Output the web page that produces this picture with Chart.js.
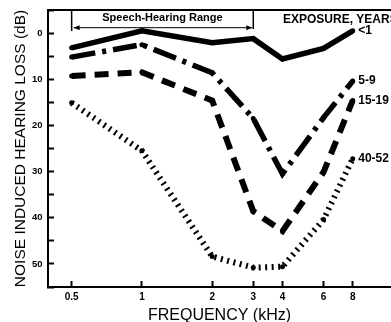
<!DOCTYPE html>
<html>
<head>
<meta charset="utf-8">
<script src="https://cdn.jsdelivr.net/npm/chart.js@4"></script>
<style>
  body { margin: 0; background: #fff; }
  canvas { display: block; }
</style>
</head>
<body>
<canvas id="hearing" width="391" height="322"></canvas>
<script>
const FONT = '"Liberation Sans", Arial, Helvetica, sans-serif';

// data
const freqKhz = [0.5, 1, 2, 3, 4, 6, 8];
const freqTicks = [0.5, 1, 2, 3, 4, 6, 8];
const groupNames = ['<1', '5-9', '15-19', '40-52'];
const lossUnder1 = [3.2, -0.5, 2.1, 1.2, 5.6, 3.3, -0.5];
const loss5to9 = [5.2, 2.5, 8.6, 18.5, 30.5, 18.3, 10.4];
const loss15to19 = [9.3, 8.5, 14.6, 38.6, 42.9, 30.1, 14.6];
const loss40to52 = [15.1, 25.5, 48.4, 50.8, 50.6, 40.4, 27.2];
const speechRange = [0.5, 3];

const lineStyles = [
    { dash: [], width: 5.5 },
    { dash: [24, 7, 4, 7], width: 5.5 },
    { dash: [14, 9], width: 6 },
    { dash: [2, 4.5], width: 6 }
];

const allLoss = [lossUnder1, loss5to9, loss15to19, loss40to52];

const datasets = allLoss.map((vals, i) => ({
    label: groupNames[i],
    data: vals.map((v, j) => ({ x: freqKhz[j], y: v })),
    borderColor: '#000',
    borderWidth: lineStyles[i].width,
    borderDash: lineStyles[i].dash,
    backgroundColor: '#000',
    pointBackgroundColor: '#000',
    pointBorderWidth: 0,
    pointRadius: 2.5,
    tension: 0,
    fill: false
}));

const overlay = {
    id: 'overlay',
    afterDraw(chart) {
        const { ctx, chartArea } = chart;
        const xs = chart.scales.x, ys = chart.scales.y;
        ctx.save();
        ctx.strokeStyle = '#000';
        ctx.fillStyle = '#000';

        // top frame line
        ctx.lineWidth = 2;
        ctx.beginPath();
        ctx.moveTo(chartArea.left - 1, chartArea.top);
        ctx.lineTo(chart.width, chartArea.top);
        ctx.stroke();

        // speech-hearing range bracket
        const xa = xs.getPixelForValue(speechRange[0]);
        const xb = xs.getPixelForValue(speechRange[1]);
        const top = chartArea.top;
        ctx.lineWidth = 1.5;
        ctx.beginPath();
        ctx.moveTo(xa, top); ctx.lineTo(xa, top + 21);
        ctx.moveTo(xb, top); ctx.lineTo(xb, top + 19);
        ctx.stroke();
        const ay = top + 17.7;
        ctx.lineWidth = 1;
        ctx.beginPath();
        ctx.moveTo(xa + 2, ay); ctx.lineTo(xb - 1, ay);
        ctx.stroke();
        ctx.beginPath();
        ctx.moveTo(xa + 2, ay); ctx.lineTo(xa + 8, ay - 2.5); ctx.lineTo(xa + 8, ay + 2.5);
        ctx.closePath(); ctx.fill();
        ctx.beginPath();
        ctx.moveTo(xb - 1, ay); ctx.lineTo(xb - 7, ay - 2.5); ctx.lineTo(xb - 7, ay + 2.5);
        ctx.closePath(); ctx.fill();

        ctx.font = 'bold 11px ' + FONT;
        ctx.textAlign = 'center';
        ctx.textBaseline = 'alphabetic';
        ctx.fillText('Speech-Hearing Range', (xa + xb) / 2, top + 10.7);

        ctx.font = 'bold 12px ' + FONT;
        ctx.textAlign = 'left';
        ctx.fillText('EXPOSURE, YEARS', 283, top + 13.2);

        // group labels at the 8 kHz end
        ctx.textBaseline = 'middle';
        const last = freqKhz.length - 1;
        allLoss.forEach((vals, i) => {
            const x = xs.getPixelForValue(freqKhz[last]) + 5.5;
            const y = ys.getPixelForValue(vals[last]);
            ctx.fillText(groupNames[i], x, y);
        });
        ctx.restore();
    }
};

new Chart(document.getElementById('hearing'), {
    type: 'line',
    data: { datasets: datasets },
    options: {
        responsive: false,
        animation: false,
        layout: { autoPadding: false, padding: { top: 10, right: 0, left: 0, bottom: 0 } },
        plugins: {
            legend: { display: false },
            tooltip: { enabled: false }
        },
        scales: {
            x: {
                type: 'logarithmic',
                min: 0.396,
                max: 11.67,
                afterBuildTicks: (scale) => {
                    scale.ticks = freqTicks.map(v => ({ value: v }));
                },
                afterFit: (scale) => {
                    scale.height = 35;
                    scale.paddingLeft = 0;
                    scale.paddingRight = 0;
                },
                border: { display: true, color: '#000', width: 2 },
                grid: {
                    drawOnChartArea: false,
                    drawTicks: true,
                    tickLength: -6,
                    tickWidth: 2,
                    tickColor: '#000'
                },
                ticks: {
                    color: '#000',
                    padding: 10,
                    maxRotation: 0,
                    autoSkip: false,
                    font: { family: FONT, size: 10, weight: 'bold' },
                    callback: (v) => String(v)
                },
                title: {
                    display: true,
                    text: 'FREQUENCY (kHz)',
                    color: '#000',
                    padding: { top: 0, bottom: -1.5 },
                    font: { family: FONT, size: 16, lineHeight: 1 }
                }
            },
            y: {
                type: 'linear',
                reverse: true,
                min: -5,
                max: 55,
                afterFit: (scale) => {
                    scale.width = 48;
                    scale.paddingTop = 0;
                    scale.paddingBottom = 0;
                },
                border: { display: true, color: '#000', width: 2 },
                grid: {
                    drawOnChartArea: false,
                    drawTicks: true,
                    tickLength: -6,
                    tickWidth: 2,
                    tickColor: '#000'
                },
                ticks: {
                    stepSize: 5,
                    color: '#000',
                    padding: 11.5,
                    autoSkip: false,
                    font: { family: FONT, size: 9.5, weight: 'bold' },
                    callback: (v) => (v % 10 === 0 && v >= 0 && v <= 50) ? String(v) : ''
                },
                title: {
                    display: true,
                    text: 'NOISE INDUCED HEARING LOSS (dB)',
                    color: '#000',
                    padding: { top: 13, bottom: 0 },
                    font: { family: FONT, size: 15.5, lineHeight: 1 }
                }
            }
        }
    },
    plugins: [overlay]
});
</script>
</body>
</html>
